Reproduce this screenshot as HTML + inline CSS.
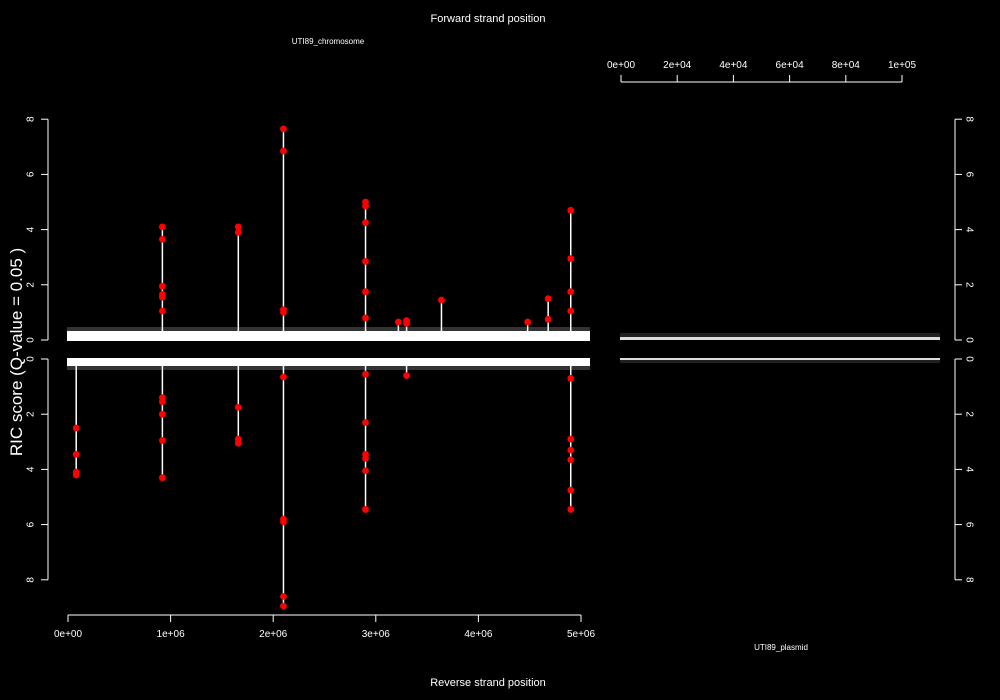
<!DOCTYPE html>
<html><head><meta charset="utf-8"><style>
html,body{margin:0;padding:0;background:#000;}
svg{display:block;font-family:"Liberation Sans",sans-serif;}
</style></head><body>
<svg id="chart" width="1000" height="700" xmlns="http://www.w3.org/2000/svg">
<rect width="1000" height="700" fill="#000"/>
<text x="488" y="22" fill="#fff" font-size="11" text-anchor="middle">Forward strand position</text>
<text x="488" y="686" fill="#fff" font-size="11" text-anchor="middle">Reverse strand position</text>
<text x="328" y="44" fill="#fff" font-size="8" text-anchor="middle">UTI89_chromosome</text>
<text x="781" y="650" fill="#fff" font-size="8" text-anchor="middle">UTI89_plasmid</text>
<text transform="translate(22,352) rotate(-90)" fill="#fff" font-size="17" text-anchor="middle">RIC score (Q-value = 0.05 )</text>
<g id="axes"></g>
<g id="bands"></g>
<g id="marks"></g>
</svg>
<script>
const fwdPos = [0.92e6,0.92e6,0.92e6,0.92e6,0.92e6,0.92e6,1.66e6,1.66e6,2.1e6,2.1e6,2.1e6,2.1e6,2.9e6,2.9e6,2.9e6,2.9e6,2.9e6,2.9e6,3.22e6,3.3e6,3.3e6,3.64e6,4.48e6,4.68e6,4.68e6,4.9e6,4.9e6,4.9e6,4.9e6];
const fwdVal = [4.1,3.65,1.95,1.65,1.55,1.05,4.1,3.9,7.65,6.85,1.1,1.0,5.0,4.85,4.25,2.85,1.75,0.8,0.65,0.7,0.6,1.45,0.65,1.5,0.75,4.7,2.95,1.75,1.05];
const revPos = [0.08e6,0.08e6,0.08e6,0.08e6,0.92e6,0.92e6,0.92e6,0.92e6,0.92e6,1.66e6,1.66e6,1.66e6,2.1e6,2.1e6,2.1e6,2.1e6,2.1e6,2.9e6,2.9e6,2.9e6,2.9e6,2.9e6,2.9e6,3.3e6,4.9e6,4.9e6,4.9e6,4.9e6,4.9e6,4.9e6];
const revVal = [2.5,3.45,4.1,4.2,1.4,1.55,2.0,2.95,4.3,1.75,2.9,3.05,0.65,5.8,5.9,8.6,8.95,0.55,2.3,3.45,3.6,4.05,5.45,0.6,0.7,2.9,3.3,3.65,4.75,5.45];
const xTicks = [0,1e6,2e6,3e6,4e6,5e6];
const xTickLabels = ["0e+00","1e+06","2e+06","3e+06","4e+06","5e+06"];
const pTicks = [0,2e4,4e4,6e4,8e4,1e5];
const pTickLabels = ["0e+00","2e+04","4e+04","6e+04","8e+04","1e+05"];
const yTicks = [0,2,4,6,8];

const NS="http://www.w3.org/2000/svg";
const xS = p => 68 + 102.6*p/1e6;
const pS = p => 621 + 281*p/1e5;
const yF = v => 340 - 27.6*v;
const yR = v => 359 + 27.6*v;
function mk(tag, attrs, parent, txt){const e=document.createElementNS(NS,tag);for(const k in attrs)e.setAttribute(k,attrs[k]);if(txt!==undefined)e.textContent=txt;parent.appendChild(e);return e;}
const axes=document.getElementById('axes'), bands=document.getElementById('bands'), marks=document.getElementById('marks');
const ax={stroke:"#fff","stroke-width":1,fill:"none"};

let l=mk('line',{x1:xS(0),x2:xS(5e6),y1:615,y2:615,...ax},axes);
 
xTicks.forEach((t,i)=>{mk('line',{x1:xS(t),x2:xS(t),y1:615,y2:622,...ax},axes);
 const tx=mk('text',{x:xS(t),y:637,fill:"#fff","font-size":10,"text-anchor":"middle"},axes,xTickLabels[i]);
  });
l=mk('line',{x1:pS(0),x2:pS(1e5),y1:82,y2:82,...ax},axes);
 
pTicks.forEach((t,i)=>{mk('line',{x1:pS(t),x2:pS(t),y1:75,y2:82,...ax},axes);
 const tx=mk('text',{x:pS(t),y:68,fill:"#fff","font-size":10,"text-anchor":"middle"},axes,pTickLabels[i]);
  });
[[48,41,30,-90],[955,962,970,90]].forEach(([ax0,tk,lx,rot],side)=>{
 [[yF,"fwd"],[yR,"rev"]].forEach(([yf,nm])=>{
  l=mk('line',{x1:ax0,x2:ax0,y1:yf(0),y2:yf(8),...ax},axes);
   
  yTicks.forEach(t=>{mk('line',{x1:ax0,x2:tk,y1:yf(t),y2:yf(t),...ax},axes);
   const tx=mk('text',{transform:`translate(${lx},${yf(t)}) rotate(${rot})`,fill:"#fff","font-size":10,"text-anchor":"middle",dy:"0.35em"},axes,String(t));
    });
 });
});
let b=mk('rect',{x:67,y:331,width:523,height:10,fill:"#fff"},bands);
 
b=mk('rect',{x:67,y:358,width:523,height:8,fill:"#fff"},bands);
 
mk('rect',{x:67,y:327,width:523,height:4,fill:"#fff",opacity:0.2},bands);
mk('rect',{x:67,y:366,width:523,height:4,fill:"#fff",opacity:0.2},bands);
b=mk('rect',{x:620,y:337,width:320,height:3,fill:"#ddd"},bands);
 
mk('rect',{x:620,y:333,width:320,height:4,fill:"#ddd",opacity:0.15},bands);
b=mk('rect',{x:620,y:358,width:320,height:2,fill:"#ddd"},bands);
 
mk('rect',{x:620,y:360,width:320,height:3,fill:"#ddd",opacity:0.15},bands);

function series(pos,val,yf,nm){
 const mx={};
 pos.forEach((p,i)=>{mx[p]=Math.max(mx[p]||0,val[i]);});
 Object.keys(mx).forEach(p=>{const s=mk('line',{x1:xS(+p),x2:xS(+p),y1:yf(0),y2:yf(mx[p]),stroke:"#fff","stroke-width":1.5},marks);
   });
 pos.forEach((p,i)=>{const c=mk('circle',{cx:xS(p),cy:yf(val[i]),r:3.4,fill:"#f00"},marks);
   });
}
series(fwdPos,fwdVal,yF,'forward');
series(revPos,revVal,yR,'reverse');
</script>
</body></html>
